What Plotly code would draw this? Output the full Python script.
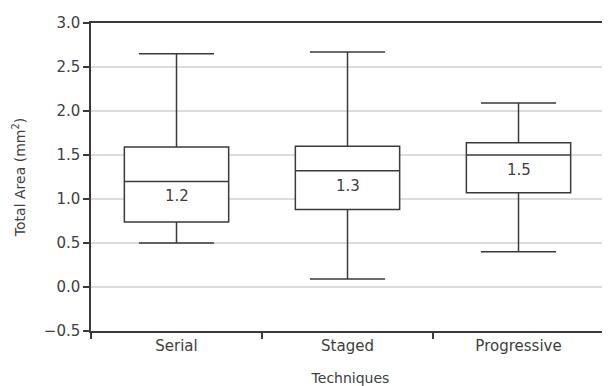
import plotly.graph_objects as go

categories = ["Serial", "Staged", "Progressive"]
lower_whisker = [0.50, 0.09, 0.40]
q1 = [0.74, 0.88, 1.07]
median = [1.20, 1.32, 1.50]
q3 = [1.59, 1.60, 1.64]
upper_whisker = [2.65, 2.67, 2.09]
median_labels = ["1.2", "1.3", "1.5"]
y_tick_vals = [-0.5, 0.0, 0.5, 1.0, 1.5, 2.0, 2.5, 3.0]
y_tick_text = ["\u22120.5", "0.0", "0.5", "1.0", "1.5", "2.0", "2.5", "3.0"]

xpos = list(range(len(categories)))
line_col = "#3a3a3a"
text_col = "#404040"
font_fam = "'DejaVu Sans', sans-serif"

fig = go.Figure()
fig.add_trace(go.Box(
    x=xpos,
    q1=q1, median=median, q3=q3,
    lowerfence=lower_whisker, upperfence=upper_whisker,
    width=0.61, whiskerwidth=0.72,
    fillcolor="white",
    line=dict(color=line_col, width=1.5),
    boxpoints=False,
    hoverinfo="skip",
    showlegend=False,
))

for i, (m, lab) in enumerate(zip(median, median_labels)):
    fig.add_annotation(x=xpos[i], y=m, text=lab, showarrow=False, yshift=-15,
                       font=dict(size=15, color=text_col, family=font_fam))

# the page body has an 8px margin, so the figure starts at (8, 8)
fig.update_layout(
    width=602, height=378,
    margin=dict(l=83, r=0, t=15, b=55),
    plot_bgcolor="white", paper_bgcolor="white",
    font=dict(family=font_fam, color=text_col, size=14),
    xaxis=dict(
        range=[-0.5, 2.535],
        tickmode="array", tickvals=xpos, ticktext=categories,
        ticks="", showgrid=False, zeroline=False,
        showline=True, linecolor=line_col, linewidth=1.5, mirror=True,
        minor=dict(tickmode="array", tickvals=[-0.5, 0.5, 1.5], ticks="outside",
                   ticklen=6, tickcolor=line_col, tickwidth=1.5, showgrid=False),
        tickfont=dict(size=15, color=text_col),
        title=dict(text="Techniques", font=dict(size=14, color=text_col), standoff=22),
    ),
    yaxis=dict(
        range=[-0.5, 3.0],
        tickmode="array", tickvals=y_tick_vals, ticktext=y_tick_text,
        ticks="outside", ticklen=6, tickcolor=line_col, tickwidth=1.5,
        showgrid=True, gridcolor="#dcdcdc", gridwidth=1.5,
        zeroline=False,
        showline=True, linecolor=line_col, linewidth=1.5,
        tickfont=dict(size=15, color=text_col),
        title=dict(text="Total Area (mm<sup>2</sup>)", font=dict(size=14, color=text_col), standoff=15),
    ),
)

fig.write_html("out.html")
